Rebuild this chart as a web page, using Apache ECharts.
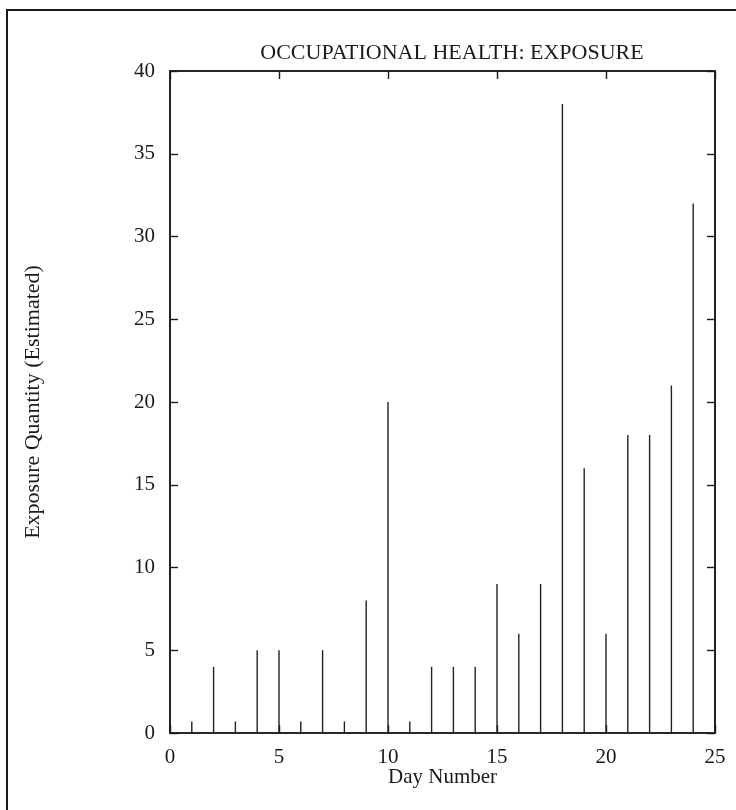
<!DOCTYPE html>
<html lang="en">
<head>
	<meta charset="UTF-8">
	<title>Occupational Health: Exposure</title>
	<script src="https://cdn.jsdelivr.net/npm/echarts@6/dist/echarts.min.js"></script>
	<style>
		html, body { margin: 0; padding: 0; background: #fff; }
		#chart { width: 736px; height: 810px; }
	</style>
</head>
<body>
	<div id="chart"></div>
<script>
	// day numbers and estimated exposure
	var days = [1, 2, 3, 4, 5, 6, 7, 8, 9, 10, 11, 12, 13, 14, 15, 16, 17, 18, 19, 20, 21, 22, 23, 24];
	var exposure = [0.7, 4, 0.7, 5, 5, 0.7, 5, 0.7, 8, 20, 0.7, 4, 4, 4, 9, 6, 9, 38, 16, 6, 18, 18, 21, 32];
	var xTicks = [0, 5, 10, 15, 20, 25];
	var yTicks = [0, 5, 10, 15, 20, 25, 30, 35, 40];

	var font = 'Liberation Serif';
	var ink = '#1a1a1a';

	var spikes = days.map(function (d, i) { return [d, exposure[i]]; });

	var myChart = echarts.init(document.getElementById('chart'));
	var tickLabel = { color: ink, fontFamily: font, fontSize: 21 };

	// frame lines + inward ticks, same for all four sides
	function frameAxis(extra) {
		return Object.assign({
			type: 'value',
			axisLine: { show: true, onZero: false, lineStyle: { color: ink, width: 1.6 } },
			axisTick: { show: true, inside: true, length: 8, lineStyle: { color: ink, width: 1.4 } },
			axisLabel: { show: false },
			splitLine: { show: false }
		}, extra);
	}

	var option = {
		animation: false,
		backgroundColor: '#fff',
		title: {
			text: 'OCCUPATIONAL HEALTH: EXPOSURE',
			left: 447,
			top: 37,
			textAlign: 'center',
			textStyle: { color: ink, fontFamily: font, fontSize: 22, fontWeight: 'normal' }
		},
		graphic: [{
			type: 'rect',
			shape: { x: 7, y: 10, width: 740, height: 820 },
			style: { fill: 'none', stroke: ink, lineWidth: 2 },
			silent: true
		}],
		grid: {
			left: 170, right: 21, top: 71, bottom: 77,
			show: true, borderColor: ink, borderWidth: 1.6
		},
		xAxis: [
			frameAxis({
				min: xTicks[0], max: xTicks[xTicks.length - 1], interval: 5,
				position: 'bottom',
				name: 'Day Number', nameLocation: 'middle', nameGap: 34,
				nameMoveOverlap: false,
				nameTextStyle: { color: ink, fontFamily: font, fontSize: 21 },
				axisLabel: Object.assign({ margin: 14 }, tickLabel)
			}),
			frameAxis({
				min: xTicks[0], max: xTicks[xTicks.length - 1], interval: 5,
				position: 'top'
			})
		],
		yAxis: [
			frameAxis({
				min: yTicks[0], max: yTicks[yTicks.length - 1], interval: 5,
				position: 'left',
				name: 'Exposure Quantity (Estimated)', nameLocation: 'middle', nameGap: 126,
				nameMoveOverlap: false,
				nameTextStyle: { color: ink, fontFamily: font, fontSize: 22 },
				axisLabel: Object.assign({ margin: 15 }, tickLabel)
			}),
			frameAxis({
				min: yTicks[0], max: yTicks[yTicks.length - 1], interval: 5,
				position: 'right'
			})
		],
		series: [{
			name: 'Exposure',
			type: 'bar',
			silent: true,
			barWidth: 1.4,
			itemStyle: { color: '#222' },
			data: spikes
		}]
	};

	myChart.setOption(option);
</script>
</body>
</html>
